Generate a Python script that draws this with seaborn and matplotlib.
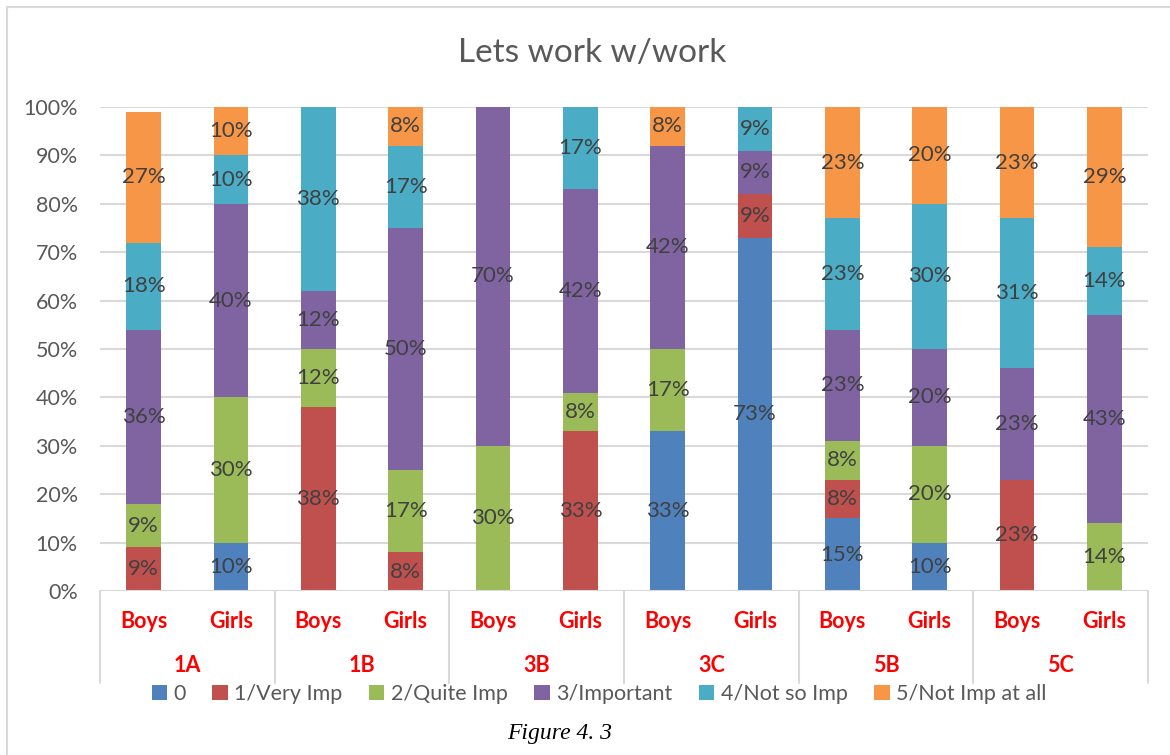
import numpy as np
import pandas as pd
import matplotlib
matplotlib.use("Agg")
import matplotlib.pyplot as plt
import matplotlib.transforms as mtransforms
from matplotlib.patches import Patch
from matplotlib.lines import Line2D
import seaborn as sns

# Data (percent of answers per class / gender)
groups = ["1A", "1B", "3B", "3C", "5B", "5C"]
genders = ["Boys", "Girls"]
series = ["0", "1/Very Imp", "2/Quite Imp", "3/Important", "4/Not so Imp", "5/Not Imp at all"]

# one list per answer, 12 bars in order 1A Boys, 1A Girls, 1B Boys, ...
s0 = [0, 10, 0, 0, 0, 0, 33, 73, 15, 10, 0, 0]
s1 = [9, 0, 38, 8, 0, 33, 0, 9, 8, 0, 23, 0]
s2 = [9, 30, 12, 17, 30, 8, 17, 0, 8, 20, 0, 14]
s3 = [36, 40, 12, 50, 70, 42, 42, 9, 23, 20, 23, 43]
s4 = [18, 10, 38, 17, 0, 17, 0, 9, 23, 30, 31, 14]
s5 = [27, 10, 0, 8, 0, 0, 8, 0, 23, 20, 23, 29]

colors = ["#4F81BD", "#C0504D", "#9BBB59", "#8064A2", "#4BACC6", "#F79646"]

bars = [f"{g} {s}" for g in groups for s in genders]
df = pd.DataFrame(dict(zip(series, [s0, s1, s2, s3, s4, s5])), index=bars)
cum = df.cumsum(axis=1)

sns.set_style("white")
plt.rcParams["font.family"] = ["Lato", "DejaVu Sans"]

fig = plt.figure(figsize=(11.7, 7.55), dpi=100)
ax = fig.add_axes([100 / 1170, 1 - 591 / 755, 1048 / 1170, 484 / 755])

# stacked bars: draw cumulative totals from the top series down
for name, col in reversed(list(zip(series, colors))):
    sns.barplot(x=bars, y=cum[name].values, color=col, width=0.4,
                saturation=1, ax=ax, zorder=3, linewidth=0)

# segment labels
for i, b in enumerate(bars):
    bottom = 0
    for name in series:
        v = df.loc[b, name]
        if v > 0:
            ax.text(i, bottom + v / 2, f"{v}%", ha="center", va="center",
                    fontsize=16, color="#404040", zorder=4)
        bottom += v

ax.set_ylim(0, 100)
ax.set_xlim(-0.5, len(bars) - 0.5)
ax.set_yticks(np.arange(0, 101, 10))
ax.set_yticklabels([f"{t}%" for t in range(0, 101, 10)])
ax.tick_params(axis="y", length=0, pad=16, labelsize=15.5, labelcolor="#595959")
ax.yaxis.grid(True, color="#D9D9D9", lw=1.5, zorder=0)
ax.set_axisbelow(True)
for sp in ax.spines.values():
    sp.set_visible(False)
ax.axhline(0, color="#D9D9D9", lw=1.5, zorder=5)

# multi-level x axis
ax.set_xticks([])
trans = mtransforms.blended_transform_factory(ax.transData, ax.transAxes)
for i, b in enumerate(bars):
    ax.text(i, -0.062, b.split()[1], transform=trans, ha="center", va="center",
            fontsize=15.5, fontweight="bold", color="#FF0000")
for k, g in enumerate(groups):
    ax.text(2 * k + 0.5, -0.153, g, transform=trans, ha="center", va="center",
            fontsize=15.5, fontweight="bold", color="#FF0000")
for k in range(len(groups) + 1):
    x = 2 * k - 0.5
    ax.add_line(Line2D([x, x], [0, -0.19], transform=trans, color="#D9D9D9",
                       lw=1.5, clip_on=False))

# legend
handles = [Patch(facecolor=c, edgecolor="none") for c in colors]
fig.legend(handles, series, loc="center", bbox_to_anchor=(0.512, 1 - 694 / 755),
           ncol=6, frameon=False, fontsize=15.5, handlelength=0.7, handleheight=0.7,
           handletextpad=0.3, columnspacing=1.25, labelcolor="#595959")

fig.text(0.506, 1 - 53 / 755, "Lets work w/work", ha="center", va="center",
         fontsize=24, color="#595959")
fig.text(0.478, 1 - 733 / 755, "Figure 4. 3", ha="center", va="center",
         fontsize=17, style="italic", family="Liberation Serif", color="black")

# chart border
fig.add_artist(Line2D([7 / 1170, 7 / 1170], [0, 1 - 7 / 755], transform=fig.transFigure,
                      color="#D9D9D9", lw=1.5))
fig.add_artist(Line2D([7 / 1170, 1], [1 - 7 / 755, 1 - 7 / 755], transform=fig.transFigure,
                      color="#D9D9D9", lw=1.5))

fig.savefig("out.png", dpi=100)
